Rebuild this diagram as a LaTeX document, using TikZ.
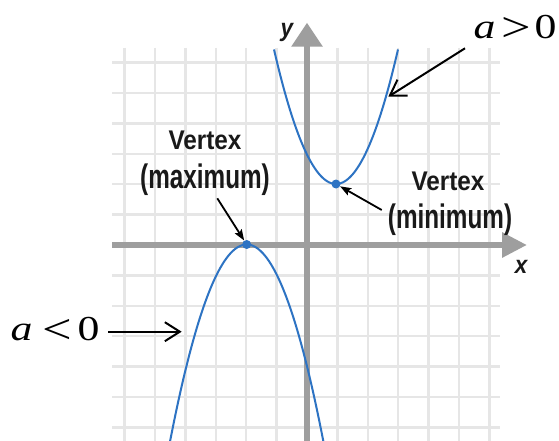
\documentclass[tikz,border=0pt]{standalone}
\usepackage{fontspec}
\usepackage{graphicx}
\setmainfont{Liberation Serif}
\newfontfamily\mathlbl[FakeStretch=1.25]{Liberation Serif}
\newfontfamily\mathita[FakeStretch=1.25]{Liberation Serif Italic}
\newfontfamily\sanslbl[FakeStretch=0.9]{Liberation Sans}
\newfontfamily\sansaxis[FakeStretch=0.9]{Liberation Sans Bold Italic}
\usetikzlibrary{arrows.meta}
\definecolor{gridgray}{RGB}{230,230,230}
\definecolor{axisgray}{RGB}{158,158,158}
\definecolor{curveblue}{RGB}{45,115,195}
\definecolor{lbldark}{RGB}{25,25,25}
\tikzset{
  gridline/.style={draw=gridgray, line width=2.5pt},
  axisline/.style={draw=axisgray, line width=6pt},
  curve/.style={draw=curveblue, line width=2pt},
  vdot/.style={circle, fill=curveblue, inner sep=0pt, minimum size=9pt},
  vlbl/.style={inner sep=0pt, text=lbldark, font=\sanslbl\bfseries\fontsize{27}{30}\selectfont},
  axlbl/.style={inner sep=0pt, text=lbldark, font=\sansaxis\fontsize{25}{30}\selectfont},
  albl/.style={inner sep=0pt, text=black, font=\mathlbl\fontsize{35}{40}\selectfont},
  vptr/.style={draw=black, line width=1.8pt, -{Stealth[length=11pt,width=8pt,inset=2pt]}},
  aptr/.style={draw=black, line width=2pt, -{Straight Barb[length=15pt,width=19pt]}}
}
\begin{document}
\begin{tikzpicture}[x=1pt,y=-1pt]
\useasboundingbox[fill=white] (0,0) rectangle (559,441);
% grid
\foreach \k in {-6,...,6} {
  \draw[gridline] ({307+30.4*\k},48) -- ({307+30.4*\k},441);
  \draw[gridline] (112,{245+30.4*\k}) -- (500,{245+30.4*\k});
}
% axes
\coordinate (xl) at (112,245);
\coordinate (xr) at (527,245);
\coordinate (yb) at (307,441);
\coordinate (yt) at (307,22.7);
\draw[axisline, -{Triangle[length=25pt,width=24pt]}] (xl) -- (xr);
\draw[axisline, -{Triangle[length=24pt,width=30pt]}] (yb) -- (yt);
\node[axlbl, anchor=base] (ylab) at (287,36.5) {y};
\node[axlbl, anchor=base] (xlab) at (521,273.3) {x};
% curves
\draw[curve] plot[domain=274:398, samples=80, smooth] (\x, {184-0.035*(\x-336)^2});
\draw[curve] plot[domain=170:323.4, samples=80, smooth] (\x, {244.5+0.0335*(\x-246.7)^2});
\node[vdot] (vmin) at (336,184) {};
\node[vdot] (vmax) at (246.7,244.5) {};
% vertex labels
\node[vlbl, anchor=base] (vmax1) at (205,149.3) {Vertex};
\node[vlbl, anchor=base] (vmax2) at (205,188.3) {\scalebox{1}[1.26]{(maximum)}};
\node[vlbl, anchor=base] (vmin1) at (448,190.7) {Vertex};
\node[vlbl, anchor=base] (vmin2) at (450,228.3) {\scalebox{1}[1.26]{(minimum)}};
\coordinate (vmaxS) at (217.3,198.3);
\coordinate (vminS) at (381.7,210);
\draw[vptr] (vmaxS) -- (vmax);
\draw[vptr] (vminS) -- (vmin);
% a labels
\node[albl, anchor=base west] (apos) at (473.4,38.3) {{\mathita a}\kern6.5pt\raisebox{-3pt}{\scalebox{1.2}{>}}\kern3pt0};
\node[albl, anchor=base west] (aneg) at (10.4,340) {{\mathita a}\kern10.5pt\raisebox{-3pt}{\scalebox{1.2}{<}}\kern5pt0};
\coordinate (aposS) at (465,48.3);
\coordinate (aposT) at (388.3,96.7);
\coordinate (anegS) at (108.3,331.7);
\coordinate (anegT) at (181.7,331.7);
\draw[aptr] (aposS) -- (aposT);
\draw[aptr] (anegS) -- (anegT);
\end{tikzpicture}
\end{document}
